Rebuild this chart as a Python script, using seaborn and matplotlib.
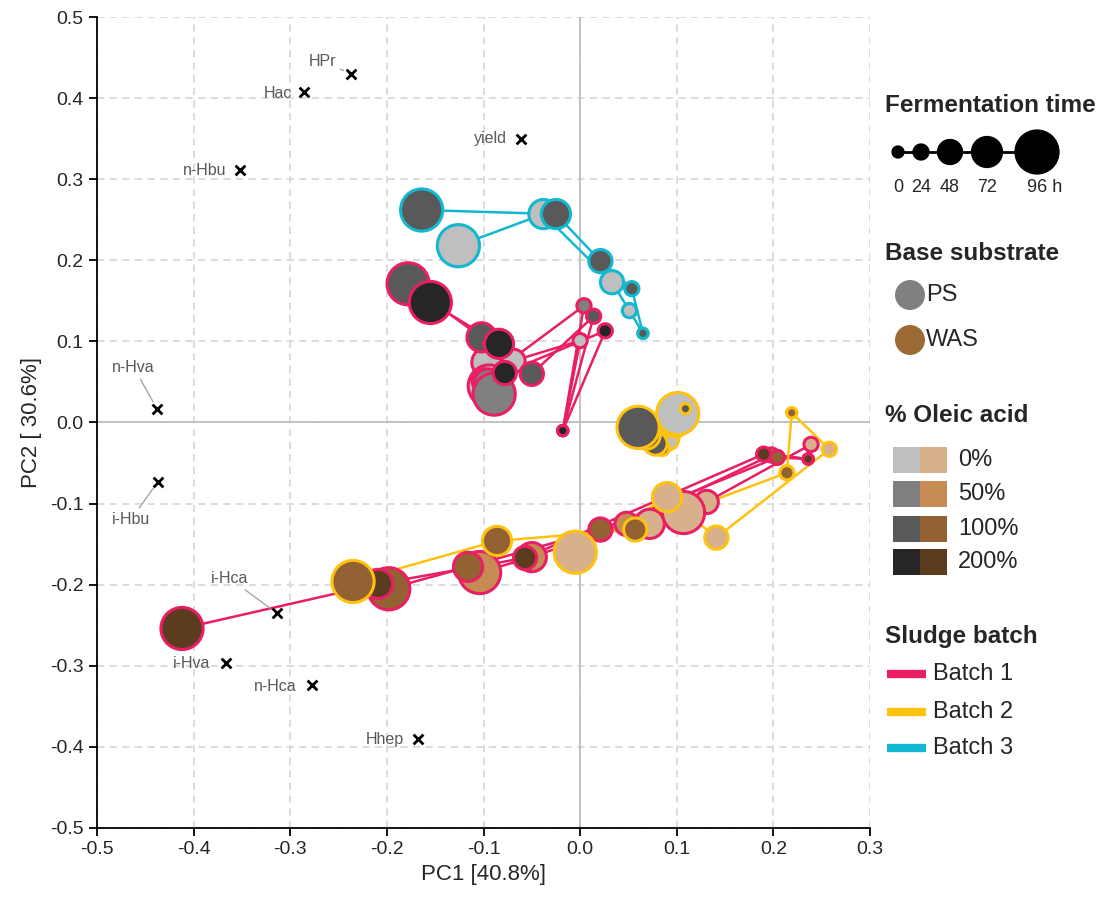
import numpy as np
import pandas as pd
import matplotlib
matplotlib.use("Agg")
import matplotlib.pyplot as plt
import seaborn as sns
from matplotlib.patches import Rectangle

# ---- data -------------------------------------------------------------
times = [0, 24, 48, 72, 96]
oleic_levels = [0, 50, 100, 200]
batch_names = ["Batch 1", "Batch 2", "Batch 3"]
substrates = ["PS", "WAS"]

# PCA scores, each list in time order 0-24-48-72-96 h
b1_ps_0_pc1 = [-0.018, 0.000, -0.069, -0.097, -0.094]
b1_ps_0_pc2 = [-0.010, 0.101, 0.076, 0.074, 0.045]
b1_ps_50_pc1 = [-0.018, 0.004, -0.100, -0.095, -0.089]
b1_ps_50_pc2 = [-0.010, 0.144, 0.052, 0.048, 0.035]
b1_ps_100_pc1 = [-0.018, 0.014, -0.050, -0.102, -0.178]
b1_ps_100_pc2 = [-0.010, 0.131, 0.060, 0.105, 0.171]
b1_ps_200_pc1 = [-0.018, 0.026, -0.078, -0.084, -0.155]
b1_ps_200_pc2 = [-0.010, 0.113, 0.061, 0.097, 0.148]

b1_was_0_pc1 = [0.236, 0.239, 0.131, 0.072, 0.107]
b1_was_0_pc2 = [-0.045, -0.027, -0.098, -0.125, -0.111]
b1_was_50_pc1 = [0.236, 0.198, 0.048, -0.050, -0.104]
b1_was_50_pc2 = [-0.045, -0.040, -0.125, -0.166, -0.185]
b1_was_100_pc1 = [0.236, 0.204, 0.021, -0.116, -0.198]
b1_was_100_pc2 = [-0.045, -0.043, -0.132, -0.178, -0.205]
b1_was_200_pc1 = [0.236, 0.190, -0.057, -0.209, -0.412]
b1_was_200_pc2 = [-0.045, -0.039, -0.167, -0.199, -0.254]

b2_ps_0_pc1 = [0.100, 0.095, 0.090, 0.098, 0.101]
b2_ps_0_pc2 = [0.012, -0.018, -0.020, 0.000, 0.011]
b2_ps_100_pc1 = [0.109, 0.085, 0.078, 0.068, 0.060]
b2_ps_100_pc2 = [0.017, -0.032, -0.026, -0.015, -0.006]

b2_was_0_pc1 = [0.219, 0.258, 0.141, 0.090, -0.005]
b2_was_0_pc2 = [0.012, -0.033, -0.142, -0.092, -0.160]
b2_was_100_pc1 = [0.219, 0.214, 0.057, -0.086, -0.235]
b2_was_100_pc2 = [0.012, -0.062, -0.132, -0.146, -0.196]

b3_ps_0_pc1 = [0.065, 0.051, 0.033, -0.038, -0.126]
b3_ps_0_pc2 = [0.110, 0.138, 0.173, 0.257, 0.218]
b3_ps_100_pc1 = [0.065, 0.0535, 0.021, -0.025, -0.164]
b3_ps_100_pc2 = [0.110, 0.165, 0.199, 0.257, 0.262]

# variable loadings
load_names = ["HPr", "Hac", "yield", "n-Hbu", "n-Hva", "i-Hbu",
              "i-Hca", "i-Hva", "n-Hca", "Hhep"]
load_pc1 = [-0.237, -0.286, -0.061, -0.352, -0.438, -0.437,
            -0.314, -0.366, -0.278, -0.168]
load_pc2 = [0.430, 0.407, 0.350, 0.311, 0.017, -0.073,
            -0.235, -0.296, -0.324, -0.390]

# ---- styles -----------------------------------------------------------
batch_colors = {"Batch 1": "#E91E63", "Batch 2": "#FFC20E", "Batch 3": "#12B8D0"}
fill_colors = {
    "PS": {0: "#BFBFBF", 50: "#808080", 100: "#595959", 200: "#262626"},
    "WAS": {0: "#D8B08C", 50: "#C68C53", 100: "#946232", 200: "#5B3C1F"},
}
substrate_colors = {"PS": "#808080", "WAS": "#9C6A35"}
size_map = {0: 54, 24: 105, 48: 280, 72: 442, 96: 923}

series = [
    ("Batch 1", "PS", 0, b1_ps_0_pc1, b1_ps_0_pc2),
    ("Batch 1", "PS", 50, b1_ps_50_pc1, b1_ps_50_pc2),
    ("Batch 1", "PS", 100, b1_ps_100_pc1, b1_ps_100_pc2),
    ("Batch 1", "PS", 200, b1_ps_200_pc1, b1_ps_200_pc2),
    ("Batch 1", "WAS", 0, b1_was_0_pc1, b1_was_0_pc2),
    ("Batch 1", "WAS", 50, b1_was_50_pc1, b1_was_50_pc2),
    ("Batch 1", "WAS", 100, b1_was_100_pc1, b1_was_100_pc2),
    ("Batch 1", "WAS", 200, b1_was_200_pc1, b1_was_200_pc2),
    ("Batch 2", "PS", 0, b2_ps_0_pc1, b2_ps_0_pc2),
    ("Batch 2", "PS", 100, b2_ps_100_pc1, b2_ps_100_pc2),
    ("Batch 2", "WAS", 0, b2_was_0_pc1, b2_was_0_pc2),
    ("Batch 2", "WAS", 100, b2_was_100_pc1, b2_was_100_pc2),
    ("Batch 3", "PS", 0, b3_ps_0_pc1, b3_ps_0_pc2),
    ("Batch 3", "PS", 100, b3_ps_100_pc1, b3_ps_100_pc2),
]

rows = []
for i, (b, sub, ol, x, y) in enumerate(series):
    for t, xi, yi in zip(times, x, y):
        rows.append({"series": i, "batch": b, "substrate": sub, "oleic": ol,
                     "time": t, "pc1": xi, "pc2": yi})
df = pd.DataFrame(rows)

sns.set_theme(style="white")
plt.rcParams["font.family"] = ["Liberation Sans", "DejaVu Sans"]
plt.rcParams["axes.unicode_minus"] = False

fig = plt.figure(figsize=(11.04, 9.01), dpi=100)
ax = fig.add_axes([97 / 1104, 1 - 828 / 901, 773 / 1104, 811 / 901])

ax.grid(True, ls=(0, (4, 3)), color="#D9D9D9", lw=1.3)
ax.axhline(0, color="#BFBFBF", lw=1.3, zorder=1)
ax.axvline(0, color="#BFBFBF", lw=1.3, zorder=1)

sns.lineplot(data=df, x="pc1", y="pc2", hue="batch", units="series",
             estimator=None, sort=False, palette=batch_colors,
             legend=False, lw=1.8, zorder=2, ax=ax)

for i, (b, sub, ol, x, y) in enumerate(series):
    sns.scatterplot(data=df[df["series"] == i], x="pc1", y="pc2",
                    size="time", sizes=size_map, color=fill_colors[sub][ol],
                    edgecolor=batch_colors[b], linewidth=2.2, legend=False,
                    zorder=3, ax=ax)

sns.scatterplot(x=load_pc1, y=load_pc2, marker="x", color="black", s=50,
                linewidth=2, zorder=4, ax=ax)

label_pos = {
    "HPr": (-0.267, 0.445, "center", True),
    "Hac": (-0.298, 0.406, "right", False),
    "yield": (-0.0756, 0.350, "right", False),
    "n-Hbu": (-0.366, 0.311, "right", False),
    "n-Hva": (-0.462, 0.068, "center", True),
    "i-Hbu": (-0.465, -0.120, "center", True),
    "i-Hca": (-0.363, -0.192, "center", True),
    "i-Hva": (-0.383, -0.297, "right", False),
    "n-Hca": (-0.293, -0.326, "right", False),
    "Hhep": (-0.182, -0.391, "right", False),
}
for name, x, y in zip(load_names, load_pc1, load_pc2):
    tx, ty, ha, leader = label_pos[name]
    arrow = dict(arrowstyle="-", color="#A6A6A6", lw=1, shrinkA=1, shrinkB=6) if leader else None
    ax.annotate(name, xy=(x, y), xytext=(tx, ty), ha=ha, va="center",
                fontsize=11.5, color="#595959", arrowprops=arrow, zorder=4)


def fmt(v, pos):
    return "0.0" if abs(v) < 1e-9 else f"{v:.1f}"


ax.set_xlim(-0.5, 0.3)
ax.set_ylim(-0.5, 0.5)
ax.set_xticks(np.round(np.arange(-0.5, 0.31, 0.1), 1))
ax.set_yticks(np.round(np.arange(-0.5, 0.51, 0.1), 1))
ax.xaxis.set_major_formatter(matplotlib.ticker.FuncFormatter(fmt))
ax.yaxis.set_major_formatter(matplotlib.ticker.FuncFormatter(fmt))
ax.tick_params(axis="both", labelsize=14, length=6, width=1.3, color="black",
               bottom=True, left=True, direction="out")
for s in ["top", "right"]:
    ax.spines[s].set_visible(False)
for s in ["left", "bottom"]:
    ax.spines[s].set_color("black")
    ax.spines[s].set_linewidth(1.3)
ax.set_xlabel("PC1 [40.8%]", fontsize=16)
ax.set_ylabel("PC2 [ 30.6%]", fontsize=16, labelpad=6)

# ---- custom legend ----------------------------------------------------
lg = fig.add_axes([870 / 1104, 0, 234 / 1104, 1])
lg.set_xlim(870, 1104)
lg.set_ylim(901, 0)
lg.axis("off")

title_kw = dict(fontsize=17.5, fontweight="bold", va="center", ha="left")
lab_kw = dict(fontsize=17, va="center", ha="left")

lg.text(885, 105, "Fermentation time", **title_kw)
time_x = [898, 921, 950, 987, 1037]
time_labels = ["0", "24", "48", "72", "96 h"]
lg.plot(time_x, [152] * len(time_x), color="black", lw=2, zorder=1)
lg.scatter(time_x, [152] * len(time_x), s=[size_map[t] for t in times],
           color="black", edgecolor="black", linewidth=2.2, zorder=2)
for xx, tl in zip(time_x, time_labels):
    lg.text(xx + (8 if tl.endswith("h") else 0), 187, tl, fontsize=13,
            ha="center", va="center")

lg.text(885, 253, "Base substrate", **title_kw)
for yy, sub in zip([295, 340], substrates):
    lg.scatter([910], [yy], s=466, color=substrate_colors[sub], edgecolor="none")
    lg.text(926, yy, sub, **lab_kw)

lg.text(885, 415, "% Oleic acid", **title_kw)
for yy, ol in zip([460, 494, 529, 562], oleic_levels):
    lg.add_patch(Rectangle((893, yy - 13), 27, 26, color=fill_colors["PS"][ol], lw=0))
    lg.add_patch(Rectangle((920, yy - 13), 27, 26, color=fill_colors["WAS"][ol], lw=0))
    lg.text(958, yy, f"{ol}%", **lab_kw)

lg.text(885, 637, "Sludge batch", **title_kw)
for yy, b in zip([674, 712, 748], batch_names):
    lg.plot([887, 926], [yy, yy], color=batch_colors[b], lw=6, solid_capstyle="butt")
    lg.text(933, yy, b, **lab_kw)

fig.savefig("out.png", dpi=100)
